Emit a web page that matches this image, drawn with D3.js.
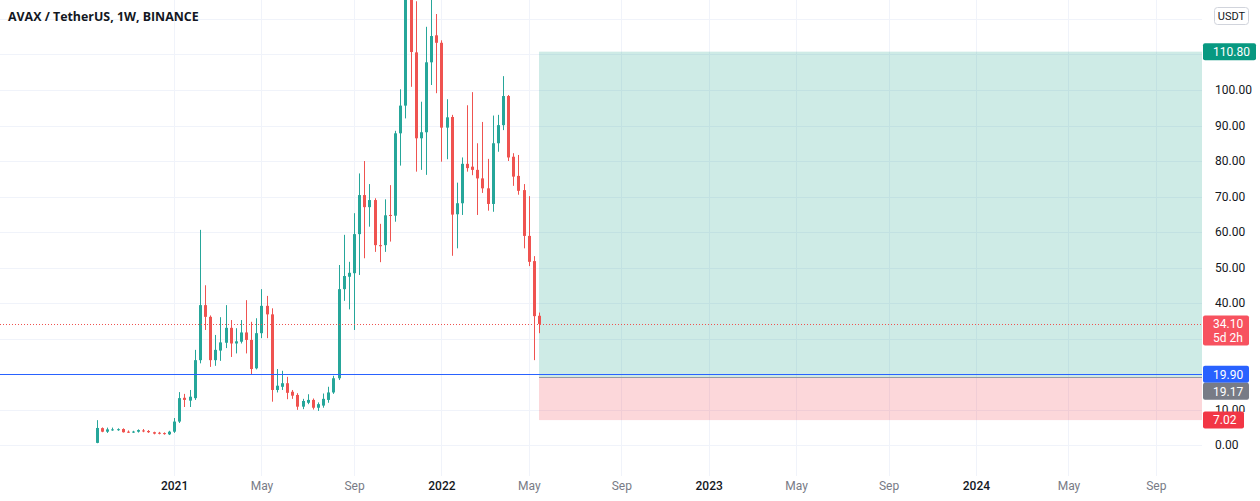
<!DOCTYPE html>
<html><head><meta charset="utf-8">
<script src="https://cdn.jsdelivr.net/npm/d3@7"></script>
<style>
html,body{margin:0;padding:0;background:#fff;}
svg{display:block;font-family:"Open Sans","Noto Sans",sans-serif;}
</style></head><body>
<svg id="chart" width="1260" height="501"></svg>
<script>
// ---- data (AVAX/USDT weekly, Binance) ----
const weeks = ["2020-09-21","2020-09-28","2020-10-05","2020-10-12","2020-10-19","2020-10-26","2020-11-02","2020-11-09","2020-11-16","2020-11-23","2020-11-30","2020-12-07","2020-12-14","2020-12-21","2020-12-28",
"2021-01-04","2021-01-11","2021-01-18","2021-01-25","2021-02-01","2021-02-08","2021-02-15","2021-02-22","2021-03-01","2021-03-08","2021-03-15","2021-03-22","2021-03-29","2021-04-05","2021-04-12","2021-04-19","2021-04-26",
"2021-05-03","2021-05-10","2021-05-17","2021-05-24","2021-05-31","2021-06-07","2021-06-14","2021-06-21","2021-06-28","2021-07-05","2021-07-12","2021-07-19","2021-07-26","2021-08-02","2021-08-09","2021-08-16","2021-08-23","2021-08-30",
"2021-09-06","2021-09-13","2021-09-20","2021-09-27","2021-10-04","2021-10-11","2021-10-18","2021-10-25","2021-11-01","2021-11-08","2021-11-15","2021-11-22","2021-11-29","2021-12-06","2021-12-13","2021-12-20","2021-12-27",
"2022-01-03","2022-01-10","2022-01-17","2022-01-24","2022-01-31","2022-02-07","2022-02-14","2022-02-21","2022-02-28","2022-03-07","2022-03-14","2022-03-21","2022-03-28","2022-04-04","2022-04-11","2022-04-18","2022-04-25","2022-05-02","2022-05-09","2022-05-16"];
const open  = [0.60,4.75,3.75,4.30,4.35,4.50,3.75,3.70,3.75,4.10,3.95,3.60,3.45,3.35,3.00,
3.75,6.60,13.30,12.50,13.20,23.90,39.40,36.10,23.90,26.60,28.80,33.00,28.60,29.10,31.70,29.60,21.60,
31.50,39.20,36.80,15.50,16.40,17.40,15.00,14.10,10.80,11.90,12.70,10.50,11.10,12.70,14.80,18.80,43.90,47.40,
48.40,59.40,70.40,67.00,69.00,56.30,56.30,64.80,64.60,87.80,95.60,137.00,110.60,86.40,88.10,107.80,115.40,
113.30,89.40,92.40,65.00,68.10,79.20,78.40,77.50,75.10,72.30,67.90,85.00,90.10,98.30,81.20,75.80,71.80,58.90,51.80,36.40];
const high  = [7.00,4.95,4.90,4.90,4.70,4.70,4.10,4.00,4.40,4.50,4.20,3.75,3.70,3.55,4.00,
7.60,14.90,14.40,15.50,26.80,60.60,45.00,36.50,31.00,36.00,39.40,35.20,32.90,35.20,40.80,34.70,35.70,
43.90,42.00,38.50,21.40,20.90,19.20,15.50,14.60,13.00,14.30,13.10,12.00,14.50,16.40,19.50,50.70,59.20,51.60,
65.30,76.50,80.00,73.50,69.50,62.30,69.20,73.20,88.50,100.20,146.00,140.00,125.00,96.70,117.80,127.00,121.40,
114.00,97.40,93.00,73.90,81.00,95.70,99.40,85.00,91.00,80.60,92.80,93.00,103.90,98.60,82.20,81.70,73.50,70.10,53.20,37.30];
const low   = [0.50,3.60,3.40,4.00,4.00,3.50,3.40,3.40,3.50,3.60,3.40,3.00,3.00,2.90,2.80,
3.40,6.20,10.70,10.70,12.70,23.00,32.40,22.00,22.30,23.70,27.30,24.80,25.80,28.60,25.80,20.00,21.30,
30.10,30.10,12.20,14.80,15.50,12.90,13.00,9.90,10.10,11.50,10.00,9.60,10.50,11.90,14.40,18.30,40.60,38.20,
32.40,47.90,52.60,61.50,54.40,51.50,54.40,57.30,62.90,78.70,92.00,100.90,77.00,77.50,76.10,101.40,99.10,
79.80,80.50,53.30,55.40,64.80,77.00,76.00,64.80,71.00,66.00,65.70,82.60,88.70,80.00,73.00,70.50,55.40,50.40,23.90,31.50];
const close = [4.80,3.75,4.40,4.40,4.45,3.60,3.70,3.78,4.20,4.00,3.60,3.20,3.30,3.20,3.75,
6.60,13.20,12.70,13.60,23.90,39.40,36.10,23.90,26.80,28.90,33.00,28.60,29.20,31.70,29.60,21.40,31.50,
39.20,36.80,15.50,16.70,17.40,14.70,13.90,10.80,12.40,12.70,10.50,11.50,13.00,14.80,18.80,43.90,47.60,48.50,
59.40,70.40,67.00,69.00,56.30,56.00,64.70,64.60,87.80,95.60,137.00,110.70,86.40,88.10,107.80,115.20,113.30,
89.40,92.30,64.90,68.10,79.20,78.00,77.50,75.10,72.30,67.90,85.00,90.10,98.30,81.00,75.60,71.60,58.90,51.60,36.30,34.10];

// price-axis tick labels that are not hidden behind the marker labels
const priceTicks = [0,10,40,50,60,70,80,90,100];
const gridPrices = [0,10,20,30,40,50,60,70,80,90,100,110,120];
const timeTicks  = ["2021-01-04","2021-05-03","2021-09-06","2022-01-03","2022-05-02","2022-09-05","2023-01-02","2023-05-01","2023-09-04","2024-01-01","2024-05-06","2024-09-02"];
const timeLabels = ["2021","May","Sep","2022","May","Sep","2023","May","Sep","2024","May","Sep"];
const title = "AVAX / TetherUS, 1W, BINANCE";
const currency = "USDT";
const lastPrice = 34.10, countdown = "5d 2h";
const hLinePrice = 19.90;
const targetPrice = 110.80, entryPrice = 19.17, stopPrice = 7.02;

// ---- layout ----
const plotR = 1202, timeTop = 476;
const axisFont = "Roboto, 'Open Sans', sans-serif";
const svg = d3.select("#chart");
const parse = d3.utcParse("%Y-%m-%d");
const x = d3.scaleUtc().domain([parse("2020-09-21"), parse("2024-09-02")]).range([97, 97 + 206*5.14]);
const y = d3.scaleLinear().domain([0, 100]).range([445, 90]);
const crisp = v => Math.round(v) + 0.5;
const fmt = d3.format(".2f");
const up = "#26a69a", down = "#ef5350";

// grid
svg.append("g").selectAll("line").data(gridPrices).join("line")
  .attr("x1", 0).attr("x2", plotR).attr("y1", d => crisp(y(d))).attr("y2", d => crisp(y(d)))
  .attr("stroke", "#f0f3fa").attr("stroke-width", 1);
svg.append("g").selectAll("line").data(timeTicks).join("line")
  .attr("x1", d => crisp(x(parse(d)))).attr("x2", d => crisp(x(parse(d))))
  .attr("y1", 0).attr("y2", timeTop)
  .attr("stroke", "#f0f3fa").attr("stroke-width", 1);

// position tool boxes
const lastX = x(parse(weeks[weeks.length-1]));
svg.append("rect").attr("x", lastX).attr("width", plotR - lastX)
  .attr("y", y(targetPrice)).attr("height", y(entryPrice) - y(targetPrice))
  .attr("fill", "rgba(8,153,129,0.2)");
svg.append("rect").attr("x", lastX).attr("width", plotR - lastX)
  .attr("y", y(entryPrice)).attr("height", y(stopPrice) - y(entryPrice))
  .attr("fill", "rgba(242,54,69,0.2)");
svg.append("line").attr("x1", lastX).attr("x2", plotR)
  .attr("y1", crisp(y(entryPrice))).attr("y2", crisp(y(entryPrice)))
  .attr("stroke", "#9598a1").attr("stroke-width", 1);

// candles
const data = weeks.map((w, i) => ({d: parse(w), o: open[i], h: high[i], l: low[i], c: close[i]}));
const cand = svg.append("g").selectAll("g").data(data).join("g");
cand.append("line")
  .attr("x1", d => crisp(x(d.d))).attr("x2", d => crisp(x(d.d)))
  .attr("y1", d => y(d.h)).attr("y2", d => y(d.l))
  .attr("stroke", d => d.c >= d.o ? up : down).attr("stroke-width", 1);
cand.append("rect")
  .attr("x", d => crisp(x(d.d)) - 1.5).attr("width", 3)
  .attr("y", d => y(Math.max(d.o, d.c)))
  .attr("height", d => Math.max(1, Math.abs(y(d.o) - y(d.c))))
  .attr("fill", d => d.c >= d.o ? up : down);

// horizontal line and last price line
svg.append("line").attr("x1", 0).attr("x2", plotR)
  .attr("y1", crisp(y(hLinePrice))).attr("y2", crisp(y(hLinePrice)))
  .attr("stroke", "#2962ff").attr("stroke-width", 1);
svg.append("line").attr("x1", 0).attr("x2", plotR)
  .attr("y1", crisp(y(lastPrice))).attr("y2", crisp(y(lastPrice)))
  .attr("stroke", down).attr("stroke-width", 1).attr("stroke-dasharray", "1,2");

// price axis
const yAxis = d3.axisRight(y).tickValues(priceTicks).tickFormat(fmt).tickSize(0).tickPadding(0);
const ya = svg.append("g").attr("transform", `translate(1215,0)`).call(yAxis);
ya.select(".domain").remove();
ya.selectAll("text").attr("font-size", 12).attr("fill", "#131722").attr("font-family", axisFont);
// the 10.00 label only peeks out between the 19.17 and 7.02 markers (clip in tick-local coordinates)
const clipTop = y(hLinePrice) + 25.5 - y(10), clipBot = y(stopPrice) - 8.5 - y(10);
svg.append("clipPath").attr("id", "tenClip").append("rect")
  .attr("x", -15).attr("width", 60).attr("y", clipTop).attr("height", clipBot - clipTop);
ya.selectAll(".tick").filter(d => d === 10).attr("clip-path", "url(#tenClip)");

// time axis
const xAxis = d3.axisBottom(x).tickValues(timeTicks.map(parse))
  .tickFormat((d, i) => timeLabels[i]).tickSize(0).tickPadding(0);
const xa = svg.append("g").attr("transform", `translate(0,${timeTop+5})`).call(xAxis);
xa.select(".domain").remove();
xa.selectAll("text").attr("font-size", 12).attr("font-family", axisFont)
  .attr("fill", (d, i) => /^\d+$/.test(timeLabels[i]) ? "#131722" : "#787b86")
  .attr("font-weight", (d, i) => /^\d+$/.test(timeLabels[i]) ? 500 : 400);

// price marker labels
function priceLabel(yc, bg, w, lines) {
  const hgt = lines.length > 1 ? 30 : 17;
  const gl = svg.append("g");
  gl.append("rect").attr("x", 1203).attr("width", w).attr("y", yc - 8.5).attr("height", hgt)
    .attr("rx", 2).attr("fill", bg);
  lines.forEach((t, k) => {
    gl.append("text").attr("x", 1213).attr("y", yc + k*14.2).attr("dy", "0.35em")
      .attr("font-family", axisFont).attr("font-size", 12).attr("fill", "#fff").text(t);
  });
}
priceLabel(y(targetPrice), "#089981", 53, [fmt(targetPrice)]);
priceLabel(y(lastPrice), "#f7525f", 46, [fmt(lastPrice), countdown]);
priceLabel(y(hLinePrice), "#2962ff", 46, [fmt(hLinePrice)]);
priceLabel(y(hLinePrice) + 17, "#787b86", 46, [fmt(entryPrice)]);
priceLabel(y(stopPrice), "#f23645", 41, [fmt(stopPrice)]);

// currency box
svg.append("rect").attr("x", 1214.5).attr("y", 7.5).attr("width", 34).attr("height", 17)
  .attr("rx", 3).attr("fill", "#fff").attr("stroke", "#d1d4dc");
svg.append("text").attr("x", 1231.5).attr("y", 16).attr("dy", "0.35em").attr("text-anchor", "middle")
  .attr("font-family", axisFont).attr("font-size", 11).attr("fill", "#131722").text(currency);

// title
svg.append("text").attr("x", 8).attr("y", 21).attr("font-size", 12.4).attr("font-weight", 700)
  .attr("fill", "#131722").text(title);
</script>
</body></html>
